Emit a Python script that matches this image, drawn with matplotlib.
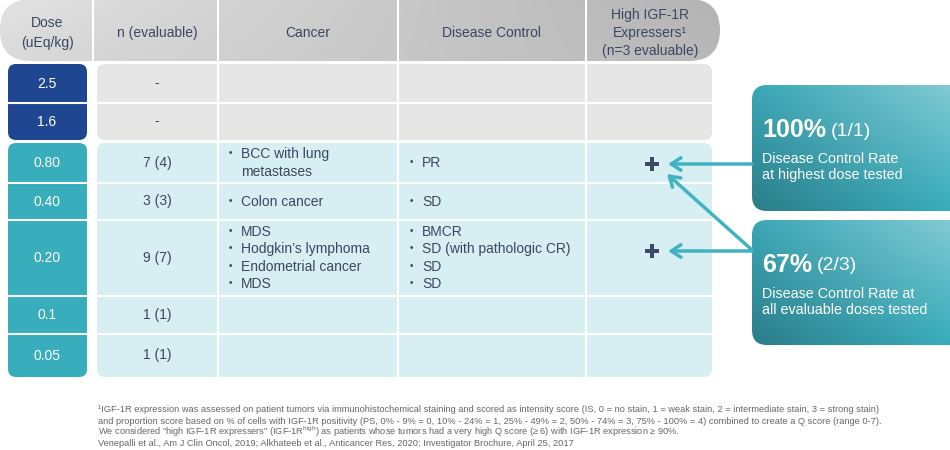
import numpy as np
import matplotlib
matplotlib.use("Agg")
import matplotlib.pyplot as plt
from matplotlib.patches import FancyBboxPatch
from matplotlib.colors import to_rgb
from matplotlib import font_manager

plt.rcParams["font.family"] = ["Liberation Sans", "DejaVu Sans"]
plt.rcParams["mathtext.fontset"] = "custom"
plt.rcParams["mathtext.rm"] = "Liberation Sans"

# ---- data ----
header_labels = ["Dose\n(uEq/kg)", "n (evaluable)", "Cancer", "Disease Control",
                 "High IGF-1R\nExpressers\u00b9\n(n=3 evaluable)"]
doses = ["2.5", "1.6", "0.80", "0.40", "0.20", "0.1", "0.05"]
n_evaluable = ["-", "-", "7 (4)", "3 (3)", "9 (7)", "1 (1)", "1 (1)"]
cancer = [[], [], ["BCC with lung\nmetastases"], ["Colon cancer"],
          ["MDS", "Hodgkin\u2019s lymphoma", "Endometrial cancer", "MDS"], [], []]
disease_control = [[], [], ["PR"], ["SD"],
                   ["BMCR", "SD (with pathologic CR)", "SD", "SD"], [], []]
high_igf = [False, False, True, False, True, False, False]

rates = ["100%", "67%"]
fractions = ["(1/1)", "(2/3)"]
rate_desc = ["Disease Control Rate\nat highest dose tested",
             "Disease Control Rate at\nall evaluable doses tested"]

footnotes = [
    "\u00b9IGF-1R expression was assessed on patient tumors via immunohistochemical staining and scored as intensity score (IS, 0 = no stain, 1 = weak stain, 2 = intermediate stain, 3 = strong stain)",
    "and proportion score based on % of cells with IGF-1R positivity (PS, 0% - 9% = 0, 10% - 24% = 1, 25% - 49% = 2, 50% - 74% = 3, 75% - 100% = 4) combined to create a Q score (range 0-7).",
    "We considered \u201chigh IGF-1R expressers\u201d (IGF-1R$^{\\mathrm{high}}$) as patients whose tumors had a very high Q score (\u2265 6) with IGF-1R expression \u2265 90%.",
    "Venepalli et al., Am J Clin Oncol, 2019; Alkhateeb et al., Anticancer Res, 2020; Investigator Brochure, April 25, 2017",
]

# ---- layout (pixel coords) ----
col_edges = [0, 93, 218, 398, 586, 720]
row_spans = [(64, 103), (103, 140), (143, 183), (183, 220), (220, 296), (296, 334), (334, 377)]
text_col = "#3b4661"
dark_blue = "#1f4690"
teal = "#38adbb"
gray_body = "#e6e6e6"
teal_body = "#d7eff3"
arrow_col = "#40b2c1"

# narrow face for the footnotes if one is installed
installed = {f.name for f in font_manager.fontManager.ttflist}
narrow = [n for n in ("Liberation Sans Narrow", "Arial Narrow") if n in installed]
fn_family = narrow + ["Liberation Sans", "DejaVu Sans"]

fig = plt.figure(figsize=(9.5, 4.5), dpi=100)
ax = fig.add_axes([0, 0, 1, 1])
ax.set_xlim(0, 950)
ax.set_ylim(450, 0)
ax.axis("off")


def gradient_box(x0, y0, x1, y1, corners, radius):
    """corners: colours at TL, TR, BL, BR; bilinear blend clipped to rounded box"""
    tl, tr, bl, br = [np.array(to_rgb(c)) for c in corners]
    u = np.linspace(0, 1, 200)[None, :, None]
    v = np.linspace(0, 1, 100)[:, None, None]
    img = (1 - v) * ((1 - u) * tl + u * tr) + v * ((1 - u) * bl + u * br)
    patch = FancyBboxPatch((x0, y0), x1 - x0, y1 - y0,
                           boxstyle=f"round,pad=0,rounding_size={radius}",
                           fc="none", ec="none")
    ax.add_patch(patch)
    im = ax.imshow(img, extent=(x0, x1, y1, y0), origin="upper", aspect="auto",
                   interpolation="bilinear", zorder=1)
    im.set_clip_path(patch)


def rbox(x0, y0, x1, y1, color, radius=8):
    ax.add_patch(FancyBboxPatch((x0, y0), x1 - x0, y1 - y0,
                                boxstyle=f"round,pad=0,rounding_size={radius}",
                                fc=color, ec="none", zorder=1))


# header band
gradient_box(0, -1, 720, 61, ["#e2e2e2", "#b4b4b4", "#dadada", "#b8b8b8"], 31)
for x in col_edges[1:-1]:
    ax.plot([x, x], [0, 61], color="white", lw=1.5, zorder=2)
hdr_x = [47, 157, 308, 492, 650]
for x, lab in zip(hdr_x, header_labels):
    ls = 1.5 if lab.count("\n") == 1 else 1.38
    ax.text(x, 33, lab, ha="center", va="center", fontsize=10, color=text_col,
            linespacing=ls, zorder=3)

# dose boxes and body panels
rbox(8, 64, 87, 140, dark_blue)
rbox(8, 143, 87, 377, teal)
rbox(97, 64, 712, 140, gray_body)
rbox(97, 143, 712, 377, teal_body)

for x in col_edges[2:-1]:
    ax.plot([x, x], [64, 140], color="white", lw=1.5, zorder=2)
    ax.plot([x, x], [143, 377], color="white", lw=1.5, zorder=2)
for (y0, y1) in row_spans:
    if y0 not in (64, 143):
        ax.plot([8, 87], [y0, y0], color="white", lw=1.5, zorder=2)
        ax.plot([97, 712], [y0, y0], color="white", lw=1.5, zorder=2)

line_gap = 17.3
for i, (y0, y1) in enumerate(row_spans):
    yc = (y0 + y1) / 2
    ax.text(47, yc, doses[i], ha="center", va="center", fontsize=10,
            color="white", zorder=3)
    ax.text(157, yc, n_evaluable[i], ha="center", va="center", fontsize=10,
            color=text_col, zorder=3)
    for items, xb in ((cancer[i], 229), (disease_control[i], 410)):
        nlines = sum(it.count("\n") + 1 for it in items)
        y = yc - (nlines - 1) * line_gap / 2
        for it in items:
            ax.text(xb, y - 1, "\u2022", ha="left", va="center", fontsize=7,
                    color=text_col, zorder=3)
            for sub in it.split("\n"):
                ax.text(xb + 12, y, sub, ha="left", va="center", fontsize=10,
                        color=text_col, zorder=3)
                y += line_gap

plus_rows = [i for i, h in enumerate(high_igf) if h]
plus_y = [(row_spans[i][0] + row_spans[i][1]) / 2 + (1 if i == 2 else -7) for i in plus_rows]
ax.scatter([652] * len(plus_y), plus_y, marker="P", s=110, color="#3d4966",
           linewidths=0, zorder=4)

# callout boxes
box_spans = [(85, 211), (220, 345)]
corner_cols = ["#3aa7b6", "#8fd1d9", "#2b7d89", "#3bb6c6"]
fig.canvas.draw()
renderer = fig.canvas.get_renderer()
for (y0, y1), rate, frac, desc in zip(box_spans, rates, fractions, rate_desc):
    gradient_box(752, y0, 990, y1, corner_cols, 15)
    t = ax.text(762, y0 + 45, rate, ha="left", va="center", fontsize=18,
                fontweight="bold", color="white", zorder=3)
    bb = t.get_window_extent(renderer)
    x_end = ax.transData.inverted().transform((bb.x1, bb.y0))[0]
    ax.text(x_end + 5, y0 + 46, frac, ha="left", va="center", fontsize=14,
            color="white", zorder=3)
    ax.text(762, y0 + 82, desc, ha="left", va="center", fontsize=10.3,
            color="white", linespacing=1.25, zorder=3)

# arrows from callouts to plus signs
arrow_kw = dict(arrowstyle="->,head_length=0.7,head_width=0.45", color=arrow_col,
                lw=2.5, shrinkA=0, shrinkB=0)
targets = [(668, plus_y[0]), (668, plus_y[1]), (667, plus_y[0] + 10)]
sources = [(752, plus_y[0]), (752, plus_y[1]), (752, plus_y[1] - 1)]
for src, dst in zip(sources, targets):
    ax.annotate("", xy=dst, xytext=src, arrowprops=arrow_kw, zorder=5)

# footnotes, scaled to the width of the reference block
fn_y = [410, 421, 432, 443]
fn_texts = []
for y, line in zip(fn_y, footnotes):
    fn_texts.append(ax.text(98, y, line, ha="left", va="center", fontsize=7,
                            color="#666666", family=fn_family))
fig.canvas.draw()
w = fn_texts[0].get_window_extent(renderer).width
scale = 774.0 / w
for t in fn_texts:
    t.set_fontsize(7 * scale)

fig.savefig("out.png", dpi=100, facecolor="white")
